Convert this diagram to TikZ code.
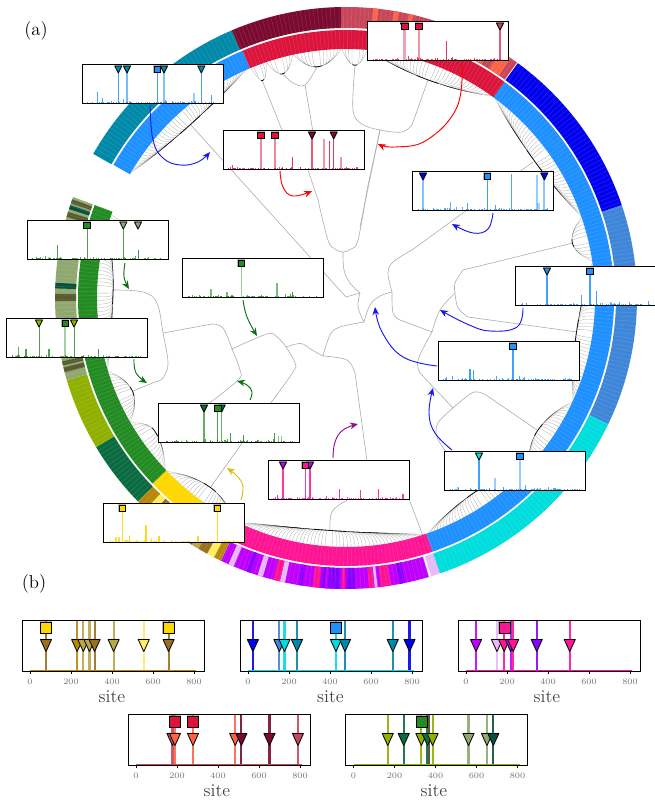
\documentclass[tikz,border=0pt]{standalone}
\usetikzlibrary{arrows.meta}
\definecolor{tealc}{HTML}{0088A8}
\definecolor{darkredc}{HTML}{7A0A30}
\definecolor{salmonc}{HTML}{C8465A}
\definecolor{tomatoc}{HTML}{FF6347}
\definecolor{bluec}{HTML}{0000EE}
\definecolor{steelc}{HTML}{3F86D8}
\definecolor{cyanc}{HTML}{00DDDD}
\definecolor{lavc}{HTML}{E8B8F8}
\definecolor{purpc}{HTML}{C000FF}
\definecolor{violc}{HTML}{8800FF}
\definecolor{pinkc}{HTML}{FF1493}
\definecolor{goldc}{HTML}{FFD700}
\definecolor{gbrownc}{HTML}{B8860B}
\definecolor{brownc}{HTML}{9A7020}
\definecolor{tanc}{HTML}{B8A848}
\definecolor{lyellowc}{HTML}{FFEE60}
\definecolor{forestc}{HTML}{228B22}
\definecolor{dgreenc}{HTML}{0A6B40}
\definecolor{olivec}{HTML}{90B000}
\definecolor{sagec}{HTML}{8FA870}
\definecolor{dolivec}{HTML}{5A5A30}
\definecolor{dtealc}{HTML}{0A5040}
\definecolor{dodgerc}{HTML}{1E90FF}
\definecolor{crimsonc}{HTML}{DC143C}
\definecolor{arrpurple}{HTML}{90108F}
\definecolor{arryellow}{HTML}{D4C010}
\definecolor{arrgreen}{HTML}{0A7010}
\definecolor{arrblue}{HTML}{1818F0}
\tikzset{
  treeline/.style={draw=black!32,line width=.45pt,line join=round},
  fanline/.style={draw=black,opacity=.3,line width=.24pt,line join=round},
  specframe/.style={draw=black,line width=.75pt,minimum width=105.4pt,minimum height=28.9pt,inner sep=0pt,outer sep=0pt},
  panelframe/.style={draw=black,line width=.7pt,minimum width=136.5pt,minimum height=38.25pt,inner sep=0pt,outer sep=0pt},
  curvearrow/.style={line width=.7pt,-{Stealth[length=6pt,width=5pt]}},
  ticklabel/.style={text=black!55,font=\fontsize{6.3}{7}\selectfont,inner sep=0pt},
  sitelabel/.style={font=\fontsize{13.5}{15}\selectfont,text=black!75,inner sep=0pt},
  panelletter/.style={font=\fontsize{14}{16}\selectfont,inner sep=0pt},
}
% ring segment: from angle a to b between radii r1,r2 (pixels)
\newcommand\ringseg[5]{\fill[#5] (#1:#3) arc[start angle=#1,end angle=#2,radius=#3*0.75pt] -- (#2:#4) arc[start angle=#2,end angle=#1,radius=#4*0.75pt] -- cycle;}
\newcommand\inseg[3]{\ringseg{#1}{#2}{249}{268}{#3}}
\newcommand\outseg[3]{\ringseg{#1}{#2}{270}{291}{#3}}
% outer purple segments, given by position along the bottom of the ring
\newcommand\purpseg[3]{%
  \pgfmathsetmacro\pa{-acos((90+#1/3-346)/283)}%
  \pgfmathsetmacro\pb{-acos((90+#2/3-346)/283)}%
  \outseg{\pa}{\pb}{#3}}
% one side of a leaf fan: root angle, tip angle
\newcommand\envpt[3]{({#1+(#2-#1)*#3}:{233+15*(#3)*(#3)})}
\newcommand\fanside[2]{%
  \pgfmathtruncatemacro\fann{round(abs(#2-#1)/0.85)}%
  \foreach \fani in {1,...,\fann}{%
    \pgfmathsetmacro\fanu{\fani/\fann}%
    \pgfmathsetmacro\fanth{#1+(#2-#1)*\fanu}%
    \pgfmathsetmacro\fanre{233+15*\fanu*\fanu+1.5}%
    \pgfmathsetmacro\fanua{\fanu*0.6}%
    \pgfmathsetmacro\fanub{\fanu*0.85}%
    \pgfmathsetmacro\fanuc{\fanu*0.4}%
    \draw[fanline] (\fanth:250) .. controls (\fanth:\fanre) and \envpt{#1}{#2}{\fanub} .. \envpt{#1}{#2}{\fanua} -- \envpt{#1}{#2}{\fanuc};
  }%
  \draw[black,opacity=.9,line width=.6pt,line cap=round] plot[domain=0:.18,samples=5] ({#1+(#2-#1)*\x}:{233+15*\x*\x});
}
\newcommand\leaffan[3]{\fanside{#3}{#1}\fanside{#3}{#2}}
% markers
\newcommand\gentri[5]{% x, top, w, h, fill
  \draw[black!50,opacity=.55,line width=1pt,line join=round] ({#1-#3/2},#2) -- ({#1+#3/2},#2) -- (#1,{#2-#4}) -- cycle;
  \draw[black,fill=#5,line width=.55pt,line join=round] ({#1-#3/2},#2) -- ({#1+#3/2},#2) -- (#1,{#2-#4}) -- cycle;}
\newcommand\gensq[4]{% x, top, size, fill
  \draw[black!50,opacity=.55,line width=1pt] ({#1-#3/2},#2) rectangle ({#1+#3/2},{#2-#3});
  \draw[black,fill=#4,line width=.55pt] ({#1-#3/2},#2) rectangle ({#1+#3/2},{#2-#3});}
\newcommand\stri[2]{\gentri{#1}{-1}{7}{7}{#2}}
\newcommand\ssq[2]{\gensq{#1}{-1}{6.6}{#2}}
% spectrum box: name,left,top,colour,seed,spikes u/h/w/op,markers
\newcommand\specbox[7]{%
  \node[specframe,fill=white] (#1) at ({#2+70.25},{-#3-19.25}) {};
  \begin{scope}[shift={(#2,-#3)}]
    \pgfmathsetseed{#5}
    \draw[#4,line width=.35pt,opacity=.7] (4,-37.8) -- (134,-37.8);
    \foreach \ni in {1,...,75}{%
      \pgfmathsetmacro\noiu{4+130*rnd}%
      \pgfmathsetmacro\noih{0.7+3.2*rnd*rnd*rnd}%
      \draw[#4,line width=.45pt,opacity=.75] (\noiu,-38) -- (\noiu,{-38+\noih});
    }
    \foreach \su/\sh/\sw/\so in {#6}{%
      \draw[#4,line width=\sw pt,opacity=\so] (\su,-38) -- (\su,{-38+\sh});
    }
    #7
  \end{scope}
  \node[specframe] (#1top) at ({#2+70.25},{-#3-19.25}) {};
}
% site panel: name,left,top,baseline colour,lines+triangles site/colour,squares site/colour,label x
\newcommand\sitepanel[7]{%
  \node[panelframe,fill=white] (#1) at ({#2+91},{-#3-25.5}) {};
  \begin{scope}[shift={(#2+8,-#3)}]
    \foreach \ss/\sc in {#5}{\draw[\sc,line width=1.6pt,opacity=.9] ({\ss*.205},0) -- ({\ss*.205},-51);}
    #6
    \draw[#4,line width=.9pt] (0,-50.4) -- ({810*.205},-50.4);
    \foreach \ss/\sc in {#5}{\gentri{\ss*.205}{-19.5}{11}{12}{\sc}}
    \foreach \tk in {0,200,400,600,800}{%
      \draw[black,line width=.4pt] ({\tk*.205},-51) -- ({\tk*.205},-53.5);
      \node[ticklabel] (#1t\tk) at ({\tk*.205},-61.5) {\tk};
    }
  \end{scope}
  \node[panelframe] (#1top) at ({#2+91},{-#3-25.5}) {};
  \node[sitelabel] (#1site) at (#7,{-#3-76.5}) {site};
}
\begin{document}
\begin{tikzpicture}[x=.75pt,y=.75pt]
\useasboundingbox (0,0) rectangle (654,-802);
\fill[white] (0,0) rectangle (654,-802);
% ---------- tree
\draw[treeline] (190,-124) -- (346,-297) -- (360,-293);
\draw[treeline] (262,-80) -- (296,-165);
\draw[treeline] plot[smooth,tension=.6] coordinates {(283,-74) (293,-83) (305,-85) (317,-67)};
\draw[treeline] (305,-85) -- (313,-132) -- (298,-158);
\draw[treeline] (296,-160) -- (308,-170) -- (318,-200);
\draw[treeline] plot[smooth,tension=.6] coordinates {(318,-200) (328,-240) (335,-249) (343,-252) (351,-249) (358,-240) (367,-190)} -- (380,-130);
\draw[treeline] plot[smooth,tension=.6] coordinates {(343,-252) (344,-270) (350,-283) (360,-293)};
\draw[treeline] plot[smooth,tension=.6] coordinates {(360,-293) (358,-307) (364,-322)};
\draw[treeline] plot[smooth,tension=.6] coordinates {(364,-322) (370,-305) (380,-296) (392,-292)};
\draw[treeline] plot[smooth,tension=.6] coordinates {(364,-322) (340,-327) (330,-335) (323,-356)};
\draw[treeline] plot[smooth,tension=.6] coordinates {(323,-356) (312,-350) (303,-344) (296,-344) (286,-347)};
\draw[treeline] plot[smooth,tension=.6] coordinates {(232,-349) (267,-334) (277,-337) (286,-347) (295,-363) (293,-372) (270,-404)} -- (210,-488);
\draw[treeline] plot[smooth,tension=.6] coordinates {(232,-349) (223,-328) (212,-324)} -- (163,-333);
\draw[treeline] plot[smooth,tension=.6] coordinates {(232,-349) (240,-370) (238,-380) (207,-405)} -- (160,-435);
\draw[treeline] plot[smooth,tension=.6] coordinates {(113,-290) (143,-292) (157,-303) (163,-333) (168,-363) (163,-378) (155,-382)} -- (133,-391);
\draw[treeline] plot[smooth,tension=.6] coordinates {(323,-356) (347,-360) (355,-373)} -- (367,-461) -- (375,-485);
\draw[treeline] plot[smooth,tension=.6] coordinates {(375,-485) (347,-500) (332,-512) (330,-531)};
\draw[treeline] (375,-485) -- (409,-499) -- (423,-536);
\draw[treeline] plot[smooth,tension=.6] coordinates {(355,-65) (353,-110) (362,-124) (380,-130) (402,-132) (412,-125)} -- (428,-80);
\draw[treeline] (380,-130) -- (360,-227);
\draw[treeline] plot[smooth,tension=.6] coordinates {(392,-292) (388,-273) (393,-262) (412,-250)} -- (533,-162);
\draw[treeline] plot[smooth,tension=.6] coordinates {(392,-292) (393,-313) (400,-320)} -- (432,-332);
\draw[treeline] plot[smooth,tension=.6] coordinates {(432,-332) (440,-310) (455,-293)};
\draw[treeline] plot[smooth,tension=.6] coordinates {(455,-293) (455,-283) (463,-270)} -- (573,-243);
\draw[treeline] plot[smooth,tension=.6] coordinates {(455,-293) (458,-308) (468,-317)} -- (577,-332);
\draw[treeline] plot[smooth,tension=.6] coordinates {(432,-332) (418,-360) (420,-373)} -- (453,-408);
\draw[treeline] plot[smooth,tension=.6] coordinates {(453,-408) (438,-423) (437,-437) (447,-453)} -- (478,-492);
\draw[treeline] plot[smooth,tension=.6] coordinates {(453,-408) (470,-394) (478,-392) (486,-395)} -- (537,-430);
% ---------- leaf fans
\begin{scope}[shift={(346,-298)}]
\leaffan{150}{113.5}{132}
\leaffan{112.5}{108.7}{111}
\leaffan{108.7}{102.3}{105.8}
\leaffan{102.3}{91}{97}
\leaffan{91}{85}{87.8}
\leaffan{85}{54}{69.6}
\leaffan{53.5}{19}{36}
\leaffan{19}{8.5}{13.6}
\leaffan{8.5}{-24.5}{-8.4}
\leaffan{-24.5}{-43}{-34.6}
\leaffan{-43}{-71}{-56}
\leaffan{-71.5}{-116}{-94}
\leaffan{-116.5}{-136}{-125.6}
\leaffan{-136.5}{-150}{-145.4}
\leaffan{-150}{-163}{-156.4}
\leaffan{-163}{-196}{-182}
\leaffan{-196}{-199.5}{-198}
% ---------- rings
\inseg{150.2}{112.7}{dodgerc}
\inseg{112.7}{53.7}{crimsonc}
\inseg{53.7}{-71.2}{dodgerc}
\inseg{-71.2}{-116.5}{pinkc}
\inseg{-116.5}{-136.2}{goldc}
\inseg{-136.2}{-200.3}{forestc}
\outseg{150.3}{113.1}{tealc}
\outseg{113.1}{91}{darkredc}
\outseg{91}{54}{salmonc}
\foreach \oa/\ob in {84.6/83.6,80.5/79.5,77.5/76.6,61/60,58/55.5}{\outseg{\oa}{\ob}{tomatoc}}
\outseg{53.8}{18.6}{bluec}
\outseg{18.6}{-25.7}{steelc}
\outseg{-25.7}{-71.2}{cyanc}
\outseg{-71.2}{-73}{lavc}
\purpseg{1010}{403}{purpc}
\foreach \pu/\pv/\pc in {940/925/violc,900/870/pinkc,860/852/lavc,850/835/pinkc,795/770/violc,765/755/pinkc,750/695/violc,715/705/purpc,690/670/pinkc,640/630/violc,590/575/lavc,575/555/pinkc,525/510/lavc,490/478/violc,440/425/lavc}{\purpseg{\pu}{\pv}{\pc}}
\outseg{-115.5}{-117}{gbrownc}
\outseg{-117}{-118.5}{lyellowc}
\outseg{-118.5}{-120.5}{brownc}
\outseg{-120.5}{-122}{tanc}
\outseg{-122}{-126}{brownc}
\outseg{-126}{-130}{gbrownc}
\outseg{-130}{-132}{brownc}
\outseg{-132}{-133.5}{lyellowc}
\outseg{-133.5}{-135.7}{gbrownc}
\outseg{-135.7}{-149.2}{dgreenc}
\outseg{-149.2}{-163.6}{olivec}
\outseg{-163.6}{-200.3}{sagec}
\foreach \sa/\sb/\sc in {-165.2/-166.2/dolivec,-166.6/-167.4/dolivec,-179.4/-180.8/dolivec,-181.9/-183/dtealc,-196.2/-197.2/dolivec,-197.8/-198.6/dtealc,-199/-199.8/dolivec}{\outseg{\sa}{\sb}{\sc}}
% thin leaf stripes
\foreach \la in {-209.5,-208.65,...,150}{%
  \ifdim \la pt>-200.3pt
    \draw[white,opacity=.16,line width=.3pt] (\la:249) -- (\la:268);
    \draw[white,opacity=.16,line width=.3pt] (\la:270) -- (\la:291);
  \fi}
\end{scope}
% ---------- spectra
\specbox{sa}{83}{65}{dodgerc}{11}{35.3/32/.8/.85,44/32/1.2/.6,74.3/32/.8/.85,81/32/1.2/.55,118.3/32/.8/.85,14/11/.7/.8,19/5/.7/.8,110.7/10/1.4/.45,128/8/.7/.8}{\stri{35.3}{tealc}\stri{44}{tealc}\ssq{74.3}{dodgerc}\stri{81}{tealc}\stri{118.3}{tealc}}
\specbox{sb}{368}{22}{crimsonc}{12}{36.7/32/2.4/.4,50.7/32/1.6/.45,132/32/.9/.7,78.3/19/.7/.85,40/4/.7/.8}{\stri{36}{salmonc}\ssq{36.7}{crimsonc}\ssq{50.7}{crimsonc}\stri{132}{salmonc}}
\specbox{sc}{224}{131}{crimsonc}{13}{36.7/32/1.4/.5,50.7/32/1.6/.5,88/32/.9/.7,109.7/32/.8/.85,68/12/.7/.85,99.7/30/1.5/.45,105.7/28/.8/.85,117/12/1.4/.45,8/4/.7/.8}{\ssq{36.7}{crimsonc}\ssq{50.7}{crimsonc}\stri{88}{darkredc}\stri{109.7}{darkredc}}
\specbox{sd}{413}{172}{dodgerc}{14}{10/32/1.4/.55,74.3/32/.8/.85,131.3/32/1.6/.5,98.7/36/.7/.8,124/35/1.1/.45,37/8/.7/.7,54/7/.7/.8,82.7/5/.7/.8,125.5/7/1.8/.4}{\stri{10}{bluec}\ssq{74.3}{dodgerc}\stri{131.3}{bluec}}
\specbox{se}{516}{267}{dodgerc}{15}{31/32/.8/.85,74/32/.8/.85,65/10/.7/.8,80/14/.7/.85,132/4/.7/.8,95/3/1.2/.5}{\stri{31}{steelc}\ssq{74}{dodgerc}}
\specbox{sf}{439}{342}{dodgerc}{16}{74/32/.8/.85,31/11/.8/.85,34/10/.7/.85,13/4/.7/.8,57/4/.7/.8,80/4/.7/.8}{\ssq{74}{dodgerc}}
\specbox{sg}{445}{452}{dodgerc}{17}{34/32/.8/.85,74.7/32/1.8/.45,50/12/1.4/.45,80.7/5/.7/.8,58/3/.7/.8,13/3/1.2/.5}{\stri{34}{cyanc}\ssq{74.7}{dodgerc}}
\specbox{sh}{269}{461}{pinkc}{18}{14/32/.8/.85,36.3/32/.8/.85,41/32/.8/.85,70/10/.7/.85,91/9/.7/.85,109/10/.7/.85,134/5/.8/.85,8/4/.7/.85}{\stri{14}{purpc}\stri{41}{purpc}\ssq{36.3}{pinkc}}
\specbox{si}{104}{504}{goldc}{19}{18.3/32/.8/.85,113.3/32/.8/.85,42/17/.8/.9,25.7/6/.8/.9,55/6/1.2/.9,94/6/.8/.9,15/5/.8/.8,12/5/.8/.8}{\ssq{18.3}{goldc}\ssq{113.3}{goldc}}
\specbox{sj}{159}{404}{forestc}{20}{45/32/.8/.7,58.7/32/.8/.8,62.7/32/.8/.7,71.7/9/.7/.85,84/7/.7/.85,115.7/9/.7/.85,119.7/6/1/.5,122/6/.7/.5}{\stri{45}{dgreenc}\stri{62.7}{dgreenc}\ssq{58.7}{forestc}}
\specbox{sk}{183}{259}{forestc}{21}{58.3/32/1.1/.45,28/8/.9/.6,94/14/1.2/.6,109/5/.7/.85,44/5/1.2/.6}{\ssq{58.3}{forestc}}
\specbox{sl}{28}{221}{forestc}{22}{59/32/.7/.8,95.3/32/.7/.8,110/9/.7/.85,29/14/.7/.8}{\ssq{59}{forestc}\stri{95.3}{sagec}\stri{110}{sagec}}
\specbox{sm}{7}{319}{forestc}{23}{32/32/.7/.8,58.3/32/1.4/.4,67/32/.7/.8,11.7/10/.9/.7,19/8/.8/.8,42/8/.8/.8,91/8/.7/.8}{\stri{32}{olivec}\stri{67}{olivec}\ssq{58.3}{forestc}}
% ---------- arrows
\coordinate (a1s) at (150,-105); \coordinate (a1e) at (210,-152);
\coordinate (a2s) at (280,-171); \coordinate (a2e) at (312,-191);
\coordinate (a3s) at (462,-63);  \coordinate (a3e) at (378,-144);
\coordinate (a4s) at (493,-213); \coordinate (a4e) at (452,-224);
\coordinate (a5s) at (523,-308); \coordinate (a5e) at (440,-310);
\coordinate (a6s) at (437,-366); \coordinate (a6e) at (375,-307);
\coordinate (a7s) at (452,-450); \coordinate (a7e) at (433,-388);
\coordinate (a8s) at (333,-458); \coordinate (a8e) at (358,-424);
\coordinate (a9s) at (241,-500); \coordinate (a9e) at (227,-468);
\coordinate (a10s) at (250,-400); \coordinate (a10e) at (237,-381);
\coordinate (a11s) at (243,-300); \coordinate (a11e) at (257,-336);
\coordinate (a12s) at (134,-359); \coordinate (a12e) at (147,-383);
\coordinate (a13s) at (125,-263); \coordinate (a13e) at (129,-289);
\draw[curvearrow,arrblue] plot[smooth,tension=.7] coordinates {(a1s) (153,-140) (163,-158) (180,-165) (198,-162) (a1e)};
\draw[curvearrow,red] plot[smooth,tension=.7] coordinates {(a2s) (283,-187) (293,-196) (a2e)};
\draw[curvearrow,red] plot[smooth,tension=.7] coordinates {(a3s) (457,-107) (427,-140) (395,-147) (a3e)};
\draw[curvearrow,arrblue] plot[smooth,tension=.7] coordinates {(a4s) (488,-229) (473,-233) (a4e)};
\draw[curvearrow,arrblue] plot[smooth,tension=.7] coordinates {(a5s) (517,-327) (490,-331) (467,-324) (a5e)};
\draw[curvearrow,arrblue] plot[smooth,tension=.7] coordinates {(a6s) (403,-357) (382,-332) (a6e)};
\draw[curvearrow,arrblue] plot[smooth,tension=.7] coordinates {(a7s) (435,-433) (429,-413) (a7e)};
\draw[curvearrow,arrpurple] plot[smooth,tension=.7] coordinates {(a8s) (335,-442) (343,-430) (a8e)};
\draw[curvearrow,arryellow] plot[smooth,tension=.7] coordinates {(a9s) (243,-487) (238,-477) (a9e)};
\draw[curvearrow,arrgreen] plot[smooth,tension=.7] coordinates {(a10s) (252,-392) (247,-385) (a10e)};
\draw[curvearrow,arrgreen] plot[smooth,tension=.7] coordinates {(a11s) (247,-317) (a11e)};
\draw[curvearrow,arrgreen] plot[smooth,tension=.7] coordinates {(a12s) (136,-373) (a12e)};
\draw[curvearrow,arrgreen] plot[smooth,tension=.7] coordinates {(a13s) (124,-277) (a13e)};
% ---------- panel letters
\node[panelletter] (la) at (36,-31) {(a)};
\node[panelletter] (lb) at (34,-584) {(b)};
% ---------- site panels
\sitepanel{pa}{22}{620}{gbrownc}{78/brownc,230/gbrownc,260/tanc,290/tanc,315/brownc,408/tanc,555/lyellowc,676/brownc}{\gensq{78*.205}{-2}{11}{goldc}\gensq{676*.205}{-2}{11}{goldc}}{112}
\sitepanel{pb}{240}{620}{cyanc}{24/bluec,153/steelc,178/cyanc,239/tealc,429/cyanc,473/tealc,706/tealc,788/bluec}{\gensq{429*.205}{-2}{11}{dodgerc}}{330.5}
\sitepanel{pc}{458}{620}{pinkc}{49/purpc,151/lavc,186/pinkc,218/purpc,230/pinkc,345/violc,506/pinkc}{\gensq{188*.205}{-2}{11}{pinkc}}{547}
\sitepanel{pd}{128}{714}{salmonc}{178/salmonc,190/tomatoc,278/tomatoc,484/tomatoc,514/darkredc,651/darkredc,790/salmonc}{\gensq{190*.205}{-2}{11}{crimsonc}\gensq{278*.205}{-2}{11}{crimsonc}}{217}
\sitepanel{pe}{345.5}{714}{olivec}{167/olivec,245/dgreenc,331/olivec,361/dgreenc,386/olivec,561/sagec,651/sagec,682/dtealc}{\draw[dolivec,line width=1.6pt] ({370*.205},0) -- ({370*.205},-51);\gensq{335*.205}{-2}{11}{forestc}}{434}
\end{tikzpicture}
\end{document}
